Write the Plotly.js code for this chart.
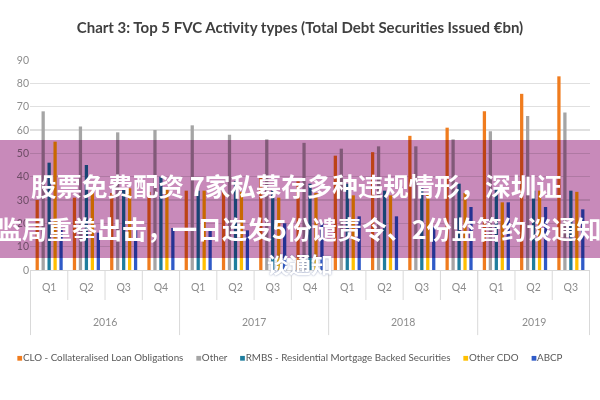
<!DOCTYPE html>
<html>
<head>
<meta charset="utf-8">
<script src="https://cdn.plot.ly/plotly-3.0.1.min.js"></script>
<style>
html,body{margin:0;padding:0;background:#fff;}
#chart{width:600px;height:400px;}
.shapelayer path{mix-blend-mode:multiply;}
</style>
</head>
<body>
<div id="chart"></div>
<script>
const years = ['2016','2016','2016','2016','2017','2017','2017','2017','2018','2018','2018','2018','2019','2019','2019'];
const quarters = ['Q1','Q2','Q3','Q4','Q1','Q2','Q3','Q4','Q1','Q2','Q3','Q4','Q1','Q2','Q3'];

const seriesNames = ['CLO - Collateralised Loan Obligations','Other','RMBS - Residential Mortgage Backed Securities','Other CDO','ABCP'];
const clo      = [30, 31, 33, 33.5, 34, 34, 40, 38, 49, 50.5, 57.5, 61, 68, 75.5, 83];
const other    = [68, 61.5, 59, 60, 62, 58, 56, 54.5, 52, 53, 53, 56, 59.5, 66, 67.5];
const rmbs     = [46, 45, 35, 40, 34, 38, 34, 37, 37, 34, 35, 37, 35, 34, 34];
const otherCdo = [55, 34, 35, 35, 34, 33.5, 31, 33, 32, 32, 33, 33, 29, 34, 33.5];
const abcp     = [18, 16, 17, 18, 18, 17, 20, 20, 23, 23, 18.5, 27, 29, 27, 26];
const colors   = ['#F07C1E','#A5A5A5','#1F7E9E','#FFC000','#2F5BC8'];

const titleText = 'Chart 3: Top 5 FVC Activity types (Total Debt Securities Issued €bn)';
const bannerLine1 = '股票免费配资 7家私募存多种违规情形，深圳证';
const bannerLine2 = '监局重拳出击，一日连发5份谴责令、2份监管约谈通知';
const bannerLine3 = '谈通知';

const FONT = 'Lato, "Open Sans", sans-serif';
const GRAYTXT = '#8c8c8c';

// unique category keys built from year + quarter
const cats = years.map((y, i) => y + ' ' + quarters[i]);

const allSeries = [clo, other, rmbs, otherCdo, abcp];
const traces = allSeries.map((vals, i) => ({
  type: 'bar',
  name: seriesNames[i],
  x: cats,
  y: vals,
  marker: {color: colors[i], line: {width: 0}},
  hoverinfo: 'skip',
  showlegend: false
}));

// year groups (from the years array)
const groups = [];
years.forEach((y, i) => {
  if (!groups.length || groups[groups.length - 1].year !== y) groups.push({year: y, start: i, end: i});
  else groups[groups.length - 1].end = i;
});

const shapes = [];
const lineStyle = {color: '#d9d9d9', width: 1};
// short separators between quarters
for (let i = 0; i <= cats.length; i++) {
  shapes.push({type: 'line', xref: 'x', yref: 'paper', x0: i - 0.5, x1: i - 0.5, y0: 0, y1: -0.143, line: lineStyle, layer: 'below'});
}
// long dividers between years
groups.forEach((g, k) => {
  shapes.push({type: 'line', xref: 'x', yref: 'paper', x0: g.start - 0.5, x1: g.start - 0.5, y0: 0, y1: -0.31, line: lineStyle, layer: 'below'});
  if (k === groups.length - 1) {
    shapes.push({type: 'line', xref: 'x', yref: 'paper', x0: g.end + 0.5, x1: g.end + 0.5, y0: 0, y1: -0.31, line: lineStyle, layer: 'below'});
  }
});
// overlay banner
shapes.push({
  type: 'rect', xref: 'paper', yref: 'paper', layer: 'above',
  x0: -0.06, x1: 1.03, y0: 0.057, y1: 0.619,
  fillcolor: 'rgb(200,138,186)', line: {width: 0}
});

const annotations = [];
groups.forEach(g => {
  annotations.push({
    text: g.year, xref: 'x', yref: 'paper', x: (g.start + g.end) / 2, y: -0.248,
    xanchor: 'center', yanchor: 'middle', showarrow: false,
    font: {family: FONT, size: 10.5, color: GRAYTXT}
  });
});

// legend row as text (colored squares + series names)
const legendText = seriesNames.map((n, i) =>
  '<span style="color:' + colors[i] + '">■</span>' + n).join('     ');
annotations.push({
  text: legendText, xref: 'paper', yref: 'paper', x: 0.464, y: -0.414,
  xanchor: 'center', yanchor: 'middle', showarrow: false,
  font: {family: FONT, size: 9.8, color: '#595959'}
});

annotations.push(
  {text: '<b>' + bannerLine1 + '</b>', xref: 'paper', yref: 'paper', x: 0.475, y: 0.405,
   xanchor: 'center', yanchor: 'middle', showarrow: false,
   font: {family: '"Noto Sans CJK SC", sans-serif', size: 25.5, color: '#ffffff'}},
  {text: '<b>' + bannerLine2 + '</b>', xref: 'paper', yref: 'paper', x: 0.482, y: 0.2,
   xanchor: 'center', yanchor: 'middle', showarrow: false,
   font: {family: '"Noto Sans CJK SC", sans-serif', size: 25, color: '#ffffff'}},
  {text: '<b>' + bannerLine3 + '</b>', xref: 'paper', yref: 'paper', x: 0.482, y: 0.035,
   xanchor: 'center', yanchor: 'middle', showarrow: false,
   font: {family: '"Noto Sans CJK SC", sans-serif', size: 22, color: '#ffffff', shadow: '0px 0px 2px rgba(60,80,140,0.6)'}}
);

const layout = {
  width: 600, height: 400,
  margin: {l: 30, r: 10, t: 60, b: 130},
  paper_bgcolor: '#fff', plot_bgcolor: '#fff',
  barmode: 'group', bargap: 0.2, bargroupgap: 0.45,
  showlegend: false,
  title: {
    text: '<b>' + titleText + '</b>',
    x: 0.5, xanchor: 'center', y: 0.93, yanchor: 'middle',
    font: {family: FONT, size: 15, color: '#404040'}
  },
  xaxis: {
    type: 'category',
    tickvals: cats, ticktext: quarters,
    showgrid: false, zeroline: false,
    showline: true, linecolor: '#d9d9d9', linewidth: 1,
    ticks: '', ticklabelstandoff: 7,
    tickfont: {family: FONT, size: 10.5, color: GRAYTXT}
  },
  yaxis: {
    range: [0, 90], dtick: 10, tick0: 0,
    showgrid: true, gridcolor: '#e0e0e0', gridwidth: 1.5,
    zeroline: false, showline: false, ticks: '',
    tickfont: {family: FONT, size: 10.5, color: GRAYTXT}
  },
  shapes: shapes,
  annotations: annotations
};

Plotly.newPlot('chart', traces, layout, {displayModeBar: false, staticPlot: true});
</script>
</body>
</html>
